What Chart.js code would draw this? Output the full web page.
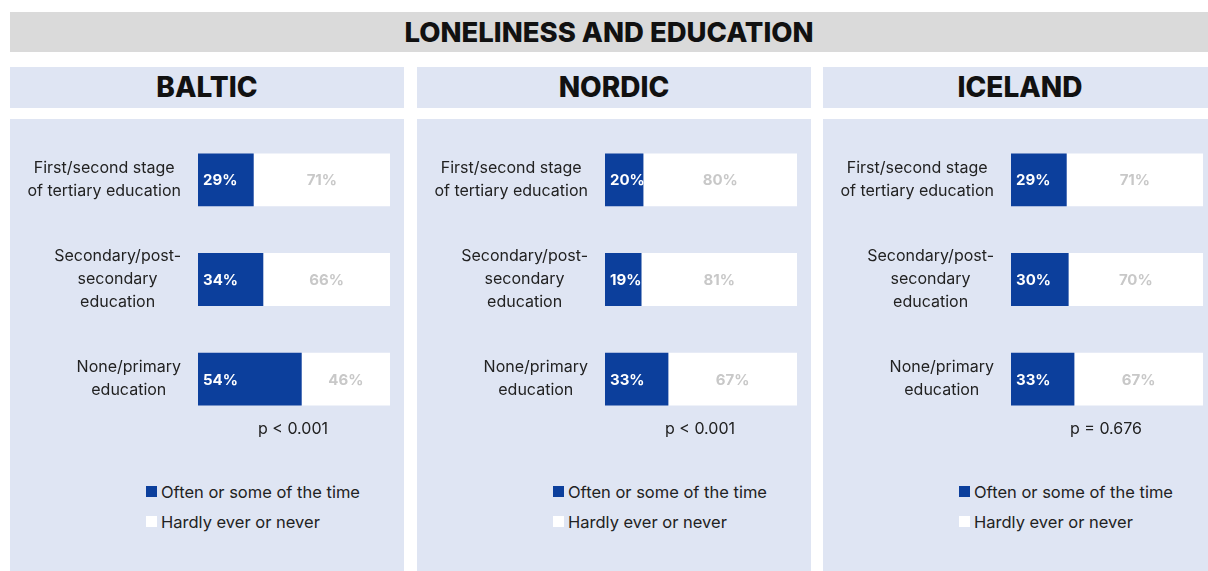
<!DOCTYPE html>
<html>
<head>
<meta charset="utf-8">
<script src="https://cdn.jsdelivr.net/npm/chart.js@4.4.1/dist/chart.umd.min.js"></script>
<style>
  body { margin: 0; width: 1208px; height: 571px; overflow: hidden; background: #fff; font-family: Inter, "Noto Sans", sans-serif; position: relative; }
  .band { position: absolute; left: 10px; top: 12px; width: 1198px; height: 40px; background: #dadada; text-align: center; line-height: 40px; font-weight: 800; font-size: 27.5px; color: #111; }
  .head { position: absolute; top: 67px; width: 394px; height: 41px; background: #dfe5f3; text-align: center; line-height: 41px; font-weight: 800; font-size: 28px; color: #111; }
  .body { position: absolute; top: 119px; width: 394px; height: 452px; background: #dfe5f3; }
  .body canvas { position: absolute; left: 0; top: 0; }
  .pval { position: absolute; left: 183px; width: 200px; top: 299px; text-align: center; font-size: 16px; color: #222; }
  .legend { position: absolute; left: 136px; top: 358px; font-size: 16.5px; color: #222; }
  .legend div { height: 30px; line-height: 30px; position: relative; padding-left: 15px; }
  .legend span { position: absolute; left: 0; top: 9px; width: 11px; height: 11px; }
</style>
</head>
<body>
<div class="band">LONELINESS AND EDUCATION</div>

<div class="head" style="left:10px">BALTIC</div>
<div class="head" style="left:417px">NORDIC</div>
<div class="head" style="left:823px">ICELAND</div>

<div class="body" id="p0" style="left:10px"><canvas id="c0"></canvas></div>
<div class="body" id="p1" style="left:417px"><canvas id="c1"></canvas></div>
<div class="body" id="p2" style="left:823px"><canvas id="c2"></canvas></div>

<script>
// data
var categories = [
    ['First/second stage', 'of tertiary education'],
    ['Secondary/post-', 'secondary', 'education'],
    ['None/primary', 'education']
];
var balticOften = [29, 34, 54];
var balticNever = [71, 66, 46];
var nordicOften = [20, 19, 33];
var nordicNever = [80, 81, 67];
var icelandOften = [29, 30, 33];
var icelandNever = [71, 70, 67];
var pValues = ['p < 0.001', 'p < 0.001', 'p = 0.676'];
var seriesNames = ['Often or some of the time', 'Hardly ever or never'];

var BLUE = '#0c3f9c';
var FONT = 'Inter, "Noto Sans", sans-serif';

// draws the % labels inside the bars
var valueLabels = {
    id: 'valueLabels',
    afterDatasetsDraw: function(chart) {
        var ctx = chart.ctx;
        ctx.save();
        ctx.font = '700 15px ' + FONT;
        ctx.textBaseline = 'middle';
        chart.data.datasets.forEach(function(ds, i) {
            var meta = chart.getDatasetMeta(i);
            meta.data.forEach(function(bar, j) {
                var txt = ds.data[j] + '%';
                if (i === 0) {
                    ctx.fillStyle = '#ffffff';
                    ctx.textAlign = 'left';
                    ctx.fillText(txt, bar.base + 5, bar.y + 1);
                } else {
                    ctx.fillStyle = '#c8c8c8';
                    ctx.textAlign = 'center';
                    ctx.fillText(txt, (bar.base + bar.x) / 2, bar.y + 1);
                }
            });
        });
        ctx.restore();
    }
};

// category labels: block right aligned to the axis, lines centred inside the block
var centredTicks = {
    id: 'centredTicks',
    afterDraw: function(chart) {
        var ctx = chart.ctx;
        var yScale = chart.scales.y;
        var right = chart.chartArea.left - 17;
        var lh = 23;
        ctx.save();
        ctx.font = '400 16px ' + FONT;
        ctx.fillStyle = '#222';
        ctx.textAlign = 'center';
        ctx.textBaseline = 'middle';
        chart.data.labels.forEach(function(lines, i) {
            var y = yScale.getPixelForTick(i);
            var w = 0;
            lines.forEach(function(l) { w = Math.max(w, ctx.measureText(l).width); });
            var cx = right - w / 2;
            var y0 = y - (lines.length - 1) * lh / 2;
            lines.forEach(function(l, k) { ctx.fillText(l, cx, y0 + k * lh); });
        });
        ctx.restore();
    }
};

function makePanel(idx, often, never) {
    var panel = document.getElementById('p' + idx);

    new Chart(document.getElementById('c' + idx), {
        type: 'bar',
        data: {
            labels: categories,
            datasets: [
                { label: seriesNames[0], data: often, backgroundColor: BLUE, barPercentage: 0.53, categoryPercentage: 1 },
                { label: seriesNames[1], data: never, backgroundColor: '#ffffff', barPercentage: 0.53, categoryPercentage: 1 }
            ]
        },
        options: {
            indexAxis: 'y',
            responsive: false,
            animation: false,
            layout: { padding: { top: 11, right: 0, bottom: 0, left: 0 } },
            plugins: { legend: { display: false }, tooltip: { enabled: false } },
            scales: {
                x: { stacked: true, min: 0, max: 100, display: false },
                y: {
                    stacked: true,
                    grid: { display: false, drawTicks: false },
                    border: { display: false },
                    ticks: { color: 'rgba(0,0,0,0)', padding: 17, autoSkip: false, font: { family: FONT, size: 16, lineHeight: 1.44 } },
                    afterFit: function(scale) {
                        scale.width = 188;
                        scale.paddingTop = 0;
                        scale.paddingBottom = 0;
                    }
                }
            }
        },
        plugins: [valueLabels, centredTicks]
    });

    var p = document.createElement('div');
    p.className = 'pval';
    p.textContent = pValues[idx];
    panel.appendChild(p);

    var lg = document.createElement('div');
    lg.className = 'legend';
    lg.innerHTML = '<div><span style="background:' + BLUE + '"></span>' + seriesNames[0] + '</div>' +
                   '<div><span style="background:#fff"></span>' + seriesNames[1] + '</div>';
    panel.appendChild(lg);
}

document.querySelectorAll('canvas').forEach(function(c) { c.width = 380; c.height = 310; });

makePanel(0, balticOften, balticNever);
makePanel(1, nordicOften, nordicNever);
makePanel(2, icelandOften, icelandNever);
</script>
</body>
</html>
